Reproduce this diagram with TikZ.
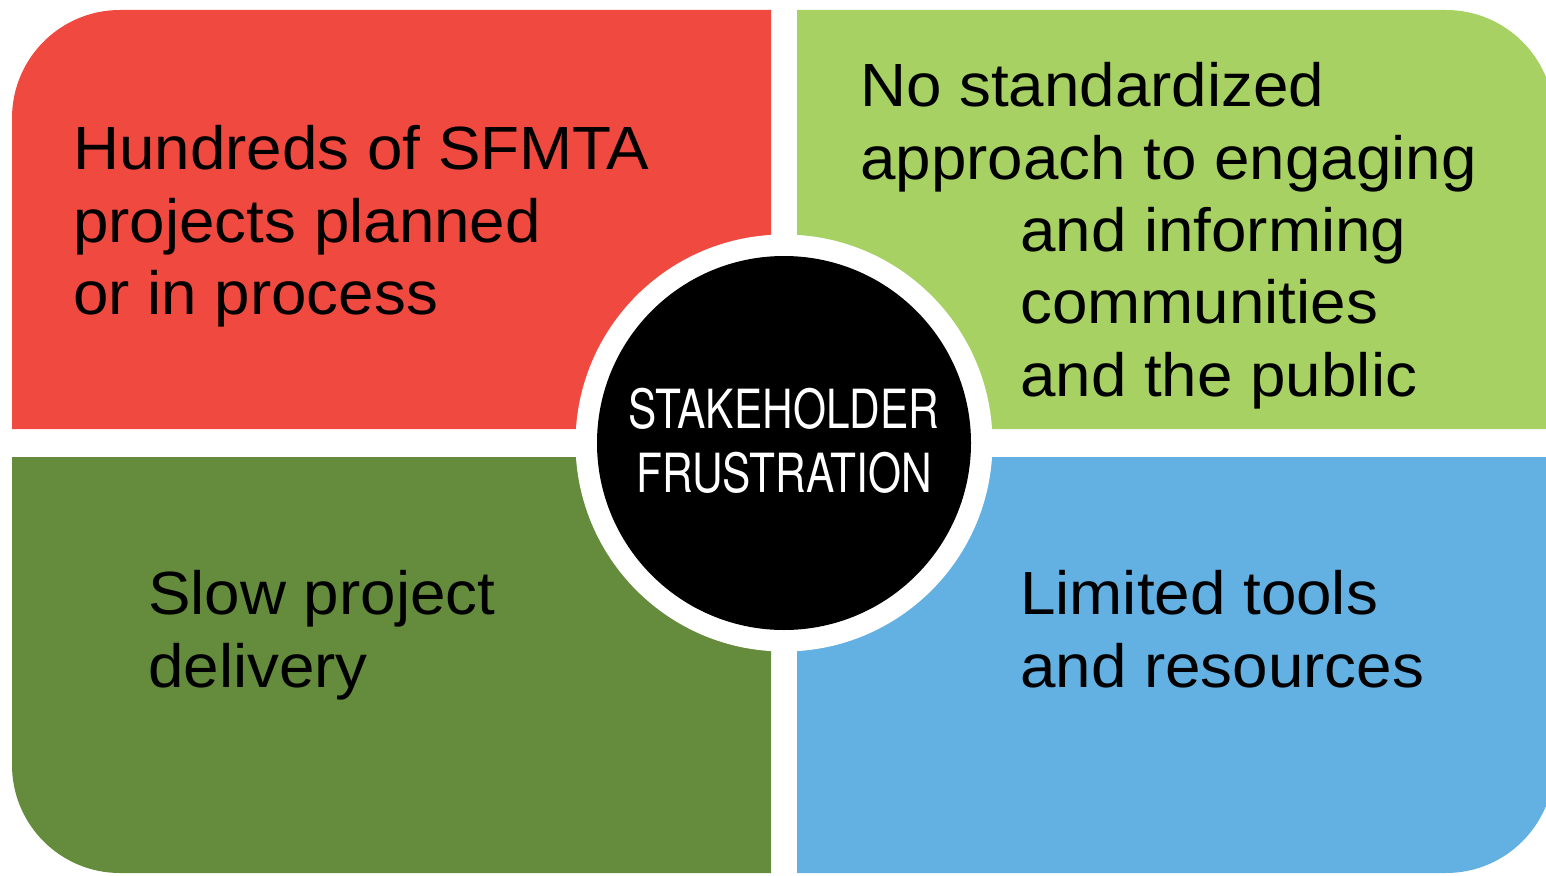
\documentclass[tikz,border=0pt]{standalone}
\usepackage{fontspec}
\setmainfont[FakeStretch=1.045]{Liberation Sans}
\newfontfamily\condfont[FakeStretch=0.785]{TeX Gyre Heros}
\definecolor{tilered}{HTML}{F04A40}
\definecolor{tilelime}{HTML}{A7D163}
\definecolor{tileolive}{HTML}{658B3C}
\definecolor{tilesky}{HTML}{62B1E2}
\tikzset{
  tiletext/.style={anchor=base west,inner sep=0pt,text=black,font=\fontsize{61}{72}\selectfont},
  hubtext/.style={anchor=base,inner sep=0pt,text=white,font=\condfont\fontsize{54}{64}\selectfont}
}
\begin{document}
\begin{tikzpicture}[x=1pt,y=-1pt]
  \useasboundingbox (0,0) rectangle (1546,875);
  \clip (0,0) rectangle (1546,875);
  % tiles, each with one rounded outer corner
  \fill[tilered] (12,429) [rounded corners=108pt] -- (12,10) [sharp corners] -- (771,10) -- (771,429) -- cycle; % top left
  \fill[tilelime] (797,429) -- (797,10) [rounded corners=108pt] -- (1554,10) [sharp corners] -- (1554,429) -- cycle; % top right
  \fill[tileolive] (771,457) -- (12,457) [rounded corners=108pt] -- (12,873) [sharp corners] -- (771,873) -- cycle; % bottom left
  \fill[tilesky] (797,457) -- (1554,457) [rounded corners=108pt] -- (1554,873) [sharp corners] -- (797,873) -- cycle; % bottom right
  % hub
  \node[circle,fill=white,inner sep=0pt,minimum size=417pt] (ring) at (784,443) {}; % white ring
  \node[circle,fill=black,inner sep=0pt,minimum size=374pt] (hub) at (ring.center) {}; % black disc
  \node[hubtext] (hubA) at (784,428) {STAKEHOLDER};
  \node[hubtext] (hubB) at (784,492) {FRUSTRATION};
  % top left text
  \node[tiletext] (redA) at (73,169) {Hundreds of SFMTA};
  \node[tiletext] (redB) at (73,242) {projects planned};
  \node[tiletext] (redC) at (73,314) {or in process};
  % top right text
  \node[tiletext] (limeA) at (860,106) {No standardized};
  \node[tiletext] (limeB) at (860,179) {approach to engaging};
  \node[tiletext] (limeC) at (1020,251) {and informing};
  \node[tiletext] (limeD) at (1020,323) {communities};
  \node[tiletext] (limeE) at (1020,396) {and the public};
  % bottom left text
  \node[tiletext] (oliveA) at (148,614) {Slow project};
  \node[tiletext] (oliveB) at (148,687) {delivery};
  % bottom right text
  \node[tiletext] (skyA) at (1020,614) {Limited tools};
  \node[tiletext] (skyB) at (1020,687) {and resources};
\end{tikzpicture}
\end{document}
